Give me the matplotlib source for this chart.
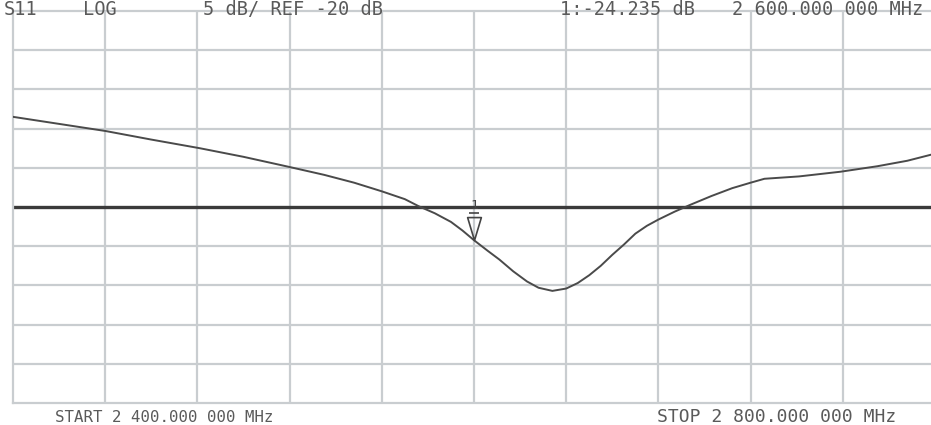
import matplotlib
matplotlib.use("Agg")
import matplotlib.pyplot as plt
import matplotlib.transforms as mtransforms
from matplotlib.path import Path

# ---- data (S11, log magnitude) ----
freq_mhz = [2400, 2420, 2440, 2460, 2481, 2500, 2520, 2535, 2548, 2560,
            2570, 2576, 2583, 2590, 2595, 2600, 2606, 2611, 2617, 2623,
            2628, 2634, 2640, 2645, 2650, 2655, 2660, 2665, 2670, 2675,
            2680, 2687, 2694, 2703, 2712, 2720, 2726, 2741, 2759, 2775,
            2788, 2800]
s11_db = [-8.5, -9.4, -10.3, -11.4, -12.5, -13.6, -14.9, -15.9, -16.9, -18.0,
          -19.0, -19.9, -20.8, -21.9, -23.0, -24.235, -25.6, -26.7, -28.2, -29.5,
          -30.3, -30.7, -30.4, -29.7, -28.7, -27.5, -26.1, -24.8, -23.4, -22.4,
          -21.6, -20.6, -19.7, -18.6, -17.6, -16.9, -16.4, -16.1, -15.5, -14.8,
          -14.1, -13.2]

start_mhz = 2400.0
stop_mhz = 2800.0
ref_db = -20.0
scale_db = 5.0
marker_freq = 2600.0
marker_db = -24.235

header_texts = ["S11", "LOG", "5 dB/ REF -20 dB", "1:-24.235 dB", "2 600.000 000 MHz"]
footer_left = "START 2 400.000 000 MHz"
footer_right = "STOP 2 800.000 000 MHz"

W, H = 931, 425
fig = plt.figure(figsize=(W / 100, H / 100), dpi=100)
fig.patch.set_facecolor("white")

# plot area in pixels: left 13, right 935 (beyond image), top 11, bottom 403
ax = fig.add_axes([13 / W, (H - 403) / H, 922 / W, (403 - 11) / H])
ax.set_xlim(start_mhz, stop_mhz)
ax.set_ylim(ref_db - 5 * scale_db, ref_db + 5 * scale_db)

grid_color = "#c9cdd0"
for i in range(1, 10):
    ax.axvline(start_mhz + i * (stop_mhz - start_mhz) / 10, color=grid_color, lw=1.6, zorder=1)
for i in range(1, 10):
    y = ref_db - 5 * scale_db + i * scale_db
    if y != ref_db:
        ax.axhline(y, color=grid_color, lw=1.6, zorder=1)
ax.axhline(ref_db, color="#3a3a3a", lw=2.4, zorder=2)

for side in ["left", "top", "bottom", "right"]:
    ax.spines[side].set_color(grid_color)
    ax.spines[side].set_linewidth(1.6)
ax.set_xticks([])
ax.set_yticks([])

ax.plot(freq_mhz, s11_db, color="#4a4a4a", lw=1.4, zorder=3)

# marker 1: tall hollow down-triangle with its tip on the trace
tri = Path([(0, 0), (-0.3, 1), (0.3, 1), (0, 0)],
           [Path.MOVETO, Path.LINETO, Path.LINETO, Path.CLOSEPOLY])
ax.plot([marker_freq], [marker_db], marker=tri, markersize=33, linestyle="none",
        markerfacecolor="none", markeredgecolor="#444444", markeredgewidth=1.2,
        zorder=4, clip_on=False)
ax.annotate("1", xy=(marker_freq, marker_db), xytext=(0, 35), textcoords="offset pixels",
            ha="center", va="center", fontsize=9.5, color="#444444",
            family="DejaVu Sans Mono", zorder=5)
ax.plot([marker_freq], [marker_db], marker="_", markersize=7, markeredgewidth=1.2,
        color="#444444", linestyle="none", zorder=5,
        transform=ax.transData + mtransforms.ScaledTranslation(0, 27 / 100, fig.dpi_scale_trans))

mono = "DejaVu Sans Mono"
tcol = "#5a5a5a"
header_x = [4, 83, 203, 560, 732]
for x, t in zip(header_x, header_texts):
    fig.text(x / W, 1.0, t, ha="left", va="top", fontsize=13.4, color=tcol, family=mono)

fy = 1 - 422 / H
fig.text(55 / W, fy, footer_left, ha="left", va="baseline", fontsize=11.3, color=tcol, family=mono)
fig.text(777 / W, fy, footer_right, ha="center", va="baseline", fontsize=13, color=tcol, family=mono)

fig.savefig("out.png", dpi=100, facecolor="white")
